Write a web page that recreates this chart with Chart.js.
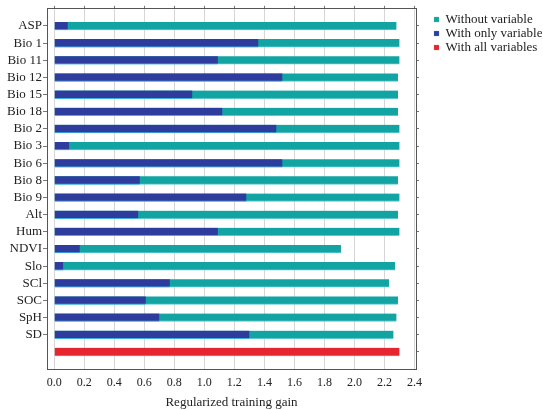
<!DOCTYPE html>
<html>
<head>
<meta charset="utf-8">
<script src="https://cdn.jsdelivr.net/npm/chart.js@4/dist/chart.umd.min.js"></script>
<style>
  html, body { margin: 0; padding: 0; background: #ffffff; }
  #wrap { width: 543px; height: 410px; position: relative; }
</style>
</head>
<body>
<div id="wrap"><canvas id="chart"></canvas></div>
<script>
// Jackknife test of variable importance (regularized training gain)
const variables = ['ASP', 'Bio 1', 'Bio 11', 'Bio 12', 'Bio 15', 'Bio 18', 'Bio 2', 'Bio 3',
  'Bio 6', 'Bio 8', 'Bio 9', 'Alt', 'Hum', 'NDVI', 'Slo', 'SCl', 'SOC', 'SpH', 'SD'];
const withoutVariable = [2.28, 2.30, 2.30, 2.29, 2.29, 2.29, 2.30, 2.30, 2.30, 2.29,
  2.30, 2.29, 2.30, 1.91, 2.27, 2.23, 2.29, 2.28, 2.26];
const withOnlyVariable = [0.09, 1.36, 1.09, 1.52, 0.92, 1.12, 1.48, 0.10, 1.52, 0.57,
  1.28, 0.56, 1.09, 0.17, 0.06, 0.77, 0.61, 0.70, 1.30];
const withAllVariables = 2.30;
const xTicks = [0.0, 0.2, 0.4, 0.6, 0.8, 1.0, 1.2, 1.4, 1.6, 1.8, 2.0, 2.2, 2.4];
const seriesNames = ['Without variable', 'With only variable', 'With all variables'];

const allRow = variables.length;            // row index of the "all variables" bar
const rowIndex = variables.map((_, i) => i);
const serif = 'Liberation Serif, Times New Roman, serif';
const frame = '#555555';

const rowTicks = scale => { scale.ticks = rowIndex.concat([allRow]).map(v => ({ value: v })); };
const valueTicks = scale => { scale.ticks = xTicks.map(v => ({ value: v })); };

new Chart(document.getElementById('chart'), {
  type: 'bar',
  data: {
    datasets: [
      {
        label: seriesNames[0],
        data: withoutVariable.map((v, i) => ({ x: v, y: i })),
        backgroundColor: '#12a4a3',
        borderColor: '#5cc8cc',
        borderWidth: { bottom: 1 },
        order: 2
      },
      {
        label: seriesNames[1],
        data: withOnlyVariable.map((v, i) => ({ x: v, y: i })),
        backgroundColor: '#2e3c9e',
        borderColor: '#3fb0dc',
        borderWidth: { bottom: 1 },
        order: 1
      },
      {
        label: seriesNames[2],
        data: [{ x: withAllVariables, y: allRow }],
        backgroundColor: '#e5252f',
        borderColor: '#f06a72',
        borderWidth: { bottom: 1 },
        order: 0
      }
    ]
  },
  options: {
    indexAxis: 'y',
    responsive: true,
    maintainAspectRatio: false,
    animation: false,
    devicePixelRatio: 1,
    layout: { padding: { left: 0, right: 0, top: 0, bottom: 0 } },
    datasets: {
      bar: { grouped: false, barThickness: 8, borderSkipped: false }
    },
    plugins: {
      tooltip: { enabled: false },
      legend: {
        position: 'right',
        align: 'start',
        maxWidth: 110,
        title: { display: true, text: '', font: { size: 0 }, padding: { top: 12, bottom: 0 } },
        labels: {
          usePointStyle: true,
          pointStyle: 'rect',
          boxWidth: 5,
          boxHeight: 5,
          padding: 1,
          color: '#222222',
          font: { family: serif, size: 13 },
          sort: (a, b) => a.datasetIndex - b.datasetIndex
        }
      }
    },
    scales: {
      x: {
        type: 'linear',
        position: 'bottom',
        min: -0.048,
        max: 2.41,
        afterBuildTicks: valueTicks,
        afterFit: s => { s.height = 41; },
        grid: { color: '#d6d6d6', lineWidth: 1, drawTicks: false },
        border: { display: true, color: frame, width: 1 },
        ticks: {
          padding: 7,
          color: '#222222',
          font: { family: serif, size: 12 },
          callback: v => Number(v).toFixed(1)
        },
        title: {
          display: true,
          text: 'Regularized training gain',
          color: '#222222',
          font: { family: serif, size: 13 },
          padding: { top: 1, bottom: 0 }
        }
      },
      x2: {
        type: 'linear',
        position: 'top',
        min: -0.048,
        max: 2.41,
        afterBuildTicks: valueTicks,
        afterFit: s => { s.height = 5; },
        grid: { drawOnChartArea: false, color: '#777777', tickLength: 3 },
        border: { display: true, color: frame, width: 1 },
        ticks: { display: false }
      },
      y: {
        type: 'linear',
        position: 'left',
        reverse: true,
        offset: false,
        min: -1,
        max: allRow + 1,
        afterBuildTicks: scale => { scale.ticks = rowIndex.map(v => ({ value: v })); },
        afterFit: s => { s.width = 47; },
        grid: { display: true, offset: false, drawOnChartArea: false, color: '#777777', tickLength: 4 },
        border: { display: true, color: frame, width: 1 },
        ticks: {
          padding: 1,
          color: '#222222',
          font: { family: serif, size: 13 },
          callback: v => variables[v]
        }
      },
      y2: {
        type: 'linear',
        position: 'right',
        reverse: true,
        offset: false,
        min: -1,
        max: allRow + 1,
        afterBuildTicks: rowTicks,
        afterFit: s => { s.width = 17; },
        grid: { display: true, offset: false, drawOnChartArea: false, color: '#777777', tickLength: 3 },
        border: { display: true, color: frame, width: 1 },
        ticks: { display: false }
      }
    }
  }
});
</script>
</body>
</html>
